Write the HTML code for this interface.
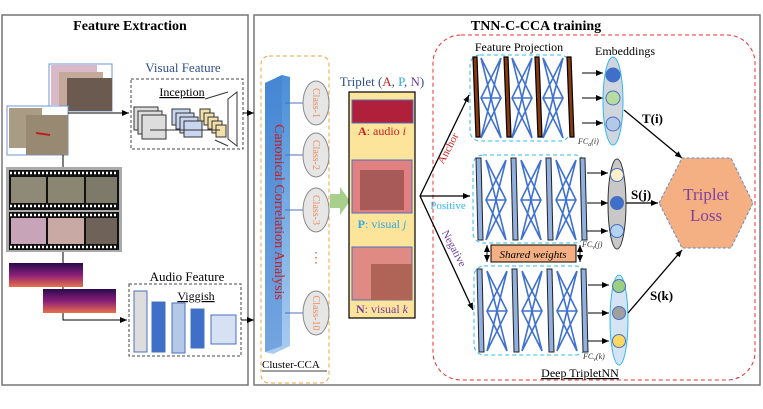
<!DOCTYPE html>
<html><head><meta charset="utf-8"><style>
html,body{margin:0;padding:0;background:#fff}
svg{display:block;font-family:"Liberation Serif",serif}
</style></head><body>
<svg width="763" height="409" viewBox="0 0 763 409" xmlns="http://www.w3.org/2000/svg">
<defs>
<marker id="ah" markerWidth="8" markerHeight="8" refX="7" refY="4" orient="auto" markerUnits="userSpaceOnUse"><path d="M0,1 L7,4 L0,7 Z" fill="#000"/></marker>
<linearGradient id="spec" x1="0" y1="0" x2="0" y2="1"><stop offset="0" stop-color="#2a0a4a"/><stop offset="0.5" stop-color="#8a1f7a"/><stop offset="1" stop-color="#e8704a"/></linearGradient>
<linearGradient id="cca" x1="0" y1="0" x2="0" y2="1"><stop offset="0" stop-color="#4a8fd8"/><stop offset="1" stop-color="#a9ccf0"/></linearGradient>
<g id="xnet" stroke="#3f72d0" stroke-width="1.6" fill="none">
<path d="M0,0 L20,40 L0,80 M20,0 L0,40 L20,80 M0,0 L20,80 M20,0 L0,80 M0,40 L20,40"/>
</g>
</defs>
<rect x="2" y="15" width="246" height="370" fill="none" stroke="#777" stroke-width="1.5"/>
<rect x="254" y="15" width="506" height="370" fill="none" stroke="#777" stroke-width="1.5"/>
<text x="130" y="30" font-size="14" font-weight="bold" text-anchor="middle">Feature Extraction</text>
<text x="536" y="30" font-size="14" font-weight="bold" text-anchor="middle">TNN-C-CCA training</text>

<rect x="49" y="64" width="63" height="47" fill="#fff" stroke="#6f95d8"/>
<rect x="51" y="65" width="46" height="40" fill="#d9b8c8"/>
<rect x="59" y="72" width="44" height="37" fill="#c4a89a"/>
<rect x="67" y="78" width="45" height="33" fill="#6a5a50"/>
<rect x="7" y="106" width="61" height="49" fill="#fff" stroke="#6f95d8"/>
<rect x="9" y="108" width="33" height="40" fill="#a89c84"/>
<rect x="26" y="115" width="42" height="40" fill="#988a72"/>
<line x1="36" y1="133" x2="50" y2="135" stroke="#c02020" stroke-width="2"/>
<rect x="6" y="167" width="116" height="85" fill="#aaa"/>
<rect x="9" y="170" width="110" height="40" fill="#111"/>
<rect x="9" y="212" width="110" height="38" fill="#111"/>
<g stroke="#fff" stroke-width="2.5" stroke-dasharray="2,2">
<line x1="10" y1="173" x2="118" y2="173"/><line x1="10" y1="206" x2="118" y2="206"/>
<line x1="10" y1="215" x2="118" y2="215"/><line x1="10" y1="247" x2="118" y2="247"/>
</g>
<rect x="11" y="177" width="35" height="26" fill="#8f8a78"/><rect x="48" y="177" width="36" height="26" fill="#8a8672"/><rect x="86" y="177" width="31" height="26" fill="#7d7a6a"/>
<rect x="11" y="218" width="35" height="26" fill="#c8a4b8"/><rect x="48" y="218" width="36" height="26" fill="#c9a9a4"/><rect x="86" y="218" width="31" height="26" fill="#6f6258"/>
<rect x="9" y="263" width="74" height="24" fill="url(#spec)"/>
<rect x="43" y="289" width="73" height="24" fill="url(#spec)"/>
<path d="M63,155 V167 M63,252 V263 M63,287 V289 M63,313 V320 H127" stroke="#000" fill="none" marker-end="url(#ah)"/>
<line x1="68" y1="113" x2="129" y2="113" stroke="#000" marker-end="url(#ah)"/>

<text x="183" y="72" font-size="13" fill="#2f4f8f" text-anchor="middle">Visual Feature</text>
<rect x="131" y="79" width="112" height="70" fill="none" stroke="#444" stroke-dasharray="3,2"/>
<text x="182" y="96" font-size="12" text-anchor="middle" text-decoration="underline">Inception</text>
<g stroke="#333" stroke-width="1">
<rect x="134" y="107" width="24" height="23" fill="#ddd"/><rect x="138" y="111" width="24" height="23" fill="#ddd"/><rect x="142" y="115" width="24" height="24" fill="#ddd"/>
<rect x="172" y="109" width="18" height="16" fill="#c8d6f0"/><rect x="176" y="113" width="18" height="16" fill="#c8d6f0"/><rect x="180" y="117" width="18" height="16" fill="#c8d6f0"/><rect x="184" y="121" width="18" height="16" fill="#c8d6f0"/>
<rect x="200" y="109" width="10" height="12" fill="#f3dfaa"/><rect x="204" y="113" width="10" height="12" fill="#f3dfaa"/><rect x="208" y="117" width="10" height="12" fill="#f3dfaa"/><rect x="212" y="121" width="10" height="12" fill="#f3dfaa"/><rect x="216" y="125" width="10" height="12" fill="#f3dfaa"/>
<path d="M228,99 L237,92 V146 L228,139 Z" fill="#fff"/>
<path d="M150,130 H220 M205,99 L228,92 M215,140 L228,146" fill="none"/>
</g>
<line x1="243" y1="113" x2="254" y2="113" stroke="#000" marker-end="url(#ah)"/>

<text x="187" y="281" font-size="13" text-anchor="middle">Audio Feature</text>
<rect x="129" y="284" width="112" height="72" fill="none" stroke="#444" stroke-dasharray="3,2"/>
<text x="196" y="300" font-size="12" text-anchor="middle" text-decoration="underline">Viggish</text>
<g stroke="#4a70c0" stroke-width="1">
<rect x="134" y="291" width="13" height="61" fill="#ddd"/>
<rect x="152" y="302" width="13" height="50" fill="#3f6fc8"/>
<rect x="172" y="303" width="13" height="50" fill="#b4c8e8"/>
<rect x="191" y="309" width="13" height="39" fill="#3f6fc8"/>
<rect x="211" y="315" width="25" height="29" fill="#d6e2f4"/>
</g>
<line x1="241" y1="320" x2="254" y2="320" stroke="#000" marker-end="url(#ah)"/>

<rect x="261" y="56" width="68" height="327" rx="8" fill="none" stroke="#f0a040" stroke-dasharray="4,3"/>
<path d="M265,83 L282,75 L290,77 L290,346 L273,354 L265,352 Z" fill="url(#cca)"/>
<path d="M265,83 L282,75 L282,346 L265,352 Z" fill="#3f7ed0" opacity="0.5"/>
<text transform="translate(275,212) rotate(90)" font-size="14" fill="#c82020" text-anchor="middle">Canonical Correlation Analysis</text>
<g stroke="#4a70c0"><line x1="285" y1="103" x2="303" y2="103"/><line x1="285" y1="155" x2="303" y2="155"/><line x1="285" y1="210" x2="303" y2="210"/><line x1="285" y1="313" x2="303" y2="313"/></g>
<g fill="#e6e6e6" stroke="#888">
<ellipse cx="316" cy="103" rx="13" ry="22"/><ellipse cx="316" cy="155" rx="13" ry="22"/><ellipse cx="316" cy="210" rx="13" ry="22"/><ellipse cx="316" cy="313" rx="13" ry="22"/>
</g>
<g font-size="10" fill="#e89060" text-anchor="middle">
<text transform="translate(313,103) rotate(90)">Class-1</text><text transform="translate(313,155) rotate(90)">Class-2</text><text transform="translate(313,210) rotate(90)">Class-3</text><text transform="translate(313,313) rotate(90)">Class-10</text>
</g>
<text x="316" y="262" font-size="14" fill="#e87020" text-anchor="middle">⋮</text>
<text x="262" y="368" font-size="11">Cluster-CCA</text>
<line x1="262" y1="371" x2="327" y2="371" stroke="#000" stroke-width="0.7"/>
<path d="M330,194 H340 V187 L350,201 L340,215 V208 H330 Z" fill="#a8d08d"/>

<text x="382" y="86" font-size="13" text-anchor="middle" fill="#2f4f8f">Triplet (<tspan fill="#c82020">A</tspan>, <tspan fill="#30a8e0">P</tspan>, <tspan fill="#7040a0">N</tspan>)</text>
<rect x="349" y="92" width="66" height="226" fill="#fde49b" stroke="#000" stroke-width="1.2"/>
<rect x="352" y="100" width="61" height="23" fill="#b0203a" stroke="#4a70c0"/>
<text x="382" y="135" font-size="12" fill="#c82020" text-anchor="middle"><tspan font-weight="bold">A</tspan>: audio <tspan font-style="italic">i</tspan></text>
<rect x="352" y="160" width="60" height="53" fill="#e08080" stroke="#4a70c0"/>
<rect x="360" y="170" width="44" height="40" fill="#a85a58"/>
<text x="382" y="228" font-size="12" fill="#30a8e0" text-anchor="middle"><tspan font-weight="bold">P</tspan>: visual <tspan font-style="italic">j</tspan></text>
<rect x="352" y="247" width="60" height="53" fill="#e08a84" stroke="#4a70c0"/>
<rect x="371" y="264" width="41" height="36" fill="#b06458"/>
<text x="382" y="313" font-size="12" fill="#7040a0" text-anchor="middle"><tspan font-weight="bold">N</tspan>: visual <tspan font-style="italic">k</tspan></text>

<rect x="433" y="35" width="322" height="345" rx="28" fill="none" stroke="#e83030" stroke-dasharray="4,3"/>
<g stroke="#000" stroke-width="1.3" marker-end="url(#ah)">
<line x1="420" y1="196" x2="469" y2="95"/><line x1="420" y1="196" x2="470" y2="196"/><line x1="420" y1="196" x2="473" y2="310"/>
</g>
<text transform="translate(451,150) rotate(-62)" font-size="11" fill="#c82020" text-anchor="middle">Anchor</text>
<text x="448" y="209" font-size="11" fill="#30b8f0" text-anchor="middle">Positive</text>
<text transform="translate(451,250) rotate(62)" font-size="11" fill="#7040a0" text-anchor="middle">Negative</text>
<text x="519" y="51" font-size="12" text-anchor="middle">Feature Projection</text>
<text x="625" y="55" font-size="12" text-anchor="middle">Embeddings</text>

<rect x="470" y="55" width="100" height="86" rx="10" fill="none" stroke="#30b8f0" stroke-dasharray="4,3"/>
<g fill="#8b3a10" stroke="#000" stroke-width="1.2">
<path d="M473,57 h4 l3,80 h-4 Z"/><path d="M504,57 h4 l3,80 h-4 Z"/><path d="M535,57 h4 l3,80 h-4 Z"/><path d="M567,57 h4 l3,80 h-4 Z"/>
</g>
<use href="#xnet" x="481" y="58"/><use href="#xnet" x="512" y="58"/><use href="#xnet" x="543" y="58"/>
<rect x="473" y="155" width="112" height="88" rx="10" fill="none" stroke="#30b8f0" stroke-dasharray="4,3"/>
<g fill="#8fb0e0" stroke="#222" stroke-width="1">
<path d="M476,158 h5 l2,82 h-5 Z"/><path d="M511,158 h5 l2,82 h-5 Z"/><path d="M546,158 h5 l2,82 h-5 Z"/><path d="M580,158 h5 l2,82 h-5 Z"/>
</g>
<use href="#xnet" x="486" y="160"/><use href="#xnet" x="521" y="160"/><use href="#xnet" x="556" y="160"/>
<rect x="491" y="245" width="85" height="17" fill="#f4b083" stroke="#000"/>
<text x="533" y="258" font-size="11" font-style="italic" text-anchor="middle">Shared weights</text>
<line x1="487" y1="246" x2="487" y2="262" stroke="#000" marker-end="url(#ah)"/><line x1="487" y1="262" x2="487" y2="245" stroke="#000" marker-end="url(#ah)"/>
<line x1="580" y1="246" x2="580" y2="262" stroke="#000" marker-end="url(#ah)"/><line x1="580" y1="262" x2="580" y2="245" stroke="#000" marker-end="url(#ah)"/>
<rect x="474" y="266" width="112" height="89" rx="10" fill="none" stroke="#30b8f0" stroke-dasharray="4,3"/>
<g fill="#8fb0e0" stroke="#222" stroke-width="1">
<path d="M477,269 h5 l2,83 h-5 Z"/><path d="M512,269 h5 l2,83 h-5 Z"/><path d="M547,269 h5 l2,83 h-5 Z"/><path d="M581,269 h5 l2,83 h-5 Z"/>
</g>
<use href="#xnet" x="487" y="271"/><use href="#xnet" x="522" y="271"/><use href="#xnet" x="557" y="271"/>

<g stroke="#000" marker-end="url(#ah)">
<line x1="582" y1="73" x2="603" y2="73"/><line x1="582" y1="98" x2="603" y2="98"/><line x1="582" y1="123" x2="603" y2="123"/>
<line x1="587" y1="173" x2="608" y2="173"/><line x1="587" y1="203" x2="608" y2="203"/><line x1="587" y1="231" x2="608" y2="231"/>
<line x1="588" y1="285" x2="609" y2="285"/><line x1="588" y1="313" x2="609" y2="313"/><line x1="588" y1="341" x2="609" y2="341"/>
</g>
<g font-size="8" font-style="italic" fill="#333">
<text x="578" y="144">FC<tspan font-size="6" dy="2">a</tspan><tspan dy="-2">(i)</tspan></text>
<text x="582" y="247">FC<tspan font-size="6" dy="2">v</tspan><tspan dy="-2">(j)</tspan></text>
<text x="583" y="359">FC<tspan font-size="6" dy="2">v</tspan><tspan dy="-2">(k)</tspan></text>
</g>
<ellipse cx="613" cy="101" rx="10" ry="44" fill="#d0d6de" stroke="#30b8f0"/>
<circle cx="613" cy="75" r="7" fill="#3f6fc8" stroke="#4a70c0"/><circle cx="613" cy="98" r="7" fill="#b8dca0" stroke="#4a70c0"/><circle cx="613" cy="124" r="7" fill="#b4c8e8" stroke="#4a70c0"/>
<ellipse cx="617" cy="204" rx="9" ry="45" fill="#c8c8c8" stroke="#333"/>
<circle cx="617" cy="175" r="6.5" fill="#fdf0c8" stroke="#4a70c0"/><circle cx="617" cy="203" r="6.5" fill="#3f6fc8" stroke="#4a70c0"/><circle cx="617" cy="231" r="6.5" fill="#b4d4f0" stroke="#4a70c0"/>
<ellipse cx="619" cy="320" rx="9" ry="45" fill="#d4e4f4" stroke="#30b8f0"/>
<circle cx="619" cy="286" r="6.5" fill="#9cce84" stroke="#4a70c0"/><circle cx="619" cy="313" r="6.5" fill="#a0a0a0" stroke="#4a70c0"/><circle cx="619" cy="341" r="6.5" fill="#fcd860" stroke="#4a70c0"/>

<g stroke="#000" stroke-width="1.3" marker-end="url(#ah)">
<line x1="624" y1="110" x2="682" y2="158"/><line x1="626" y1="203" x2="658" y2="203"/><line x1="628" y1="313" x2="682" y2="250"/>
</g>
<g font-size="13" font-weight="bold">
<text x="642" y="123">T(i)</text><text x="631" y="199">S(j)</text><text x="650" y="300">S(k)</text>
</g>
<polygon points="659,203 682,158 731,158 753,203 731,248 682,248" fill="#f4b083" stroke="#6a8ac0" stroke-dasharray="3,2"/>
<text x="706" y="200" font-size="17" fill="#8040a0" text-anchor="middle">Triplet</text>
<text x="706" y="221" font-size="17" fill="#8040a0" text-anchor="middle">Loss</text>
<text x="580" y="377" font-size="12" text-anchor="middle" text-decoration="underline">Deep TripletNN</text>
</svg>
</body></html>
